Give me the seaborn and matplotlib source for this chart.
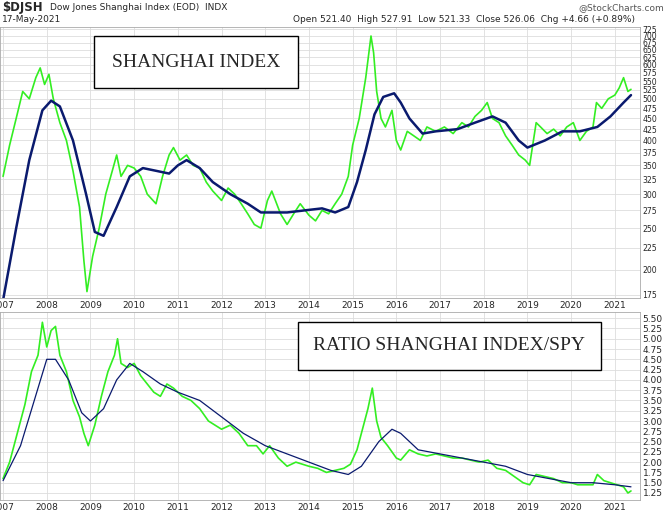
import numpy as np
import pandas as pd
import matplotlib
matplotlib.use("Agg")
import matplotlib.pyplot as plt
import seaborn as sns

# Shanghai index (approx. readings)
px_t = [2007.0,2007.15,2007.3,2007.45,2007.6,2007.75,2007.85,2007.95,2008.05,2008.15,2008.3,2008.45,2008.6,2008.75,2008.85,2008.92,
        2009.05,2009.2,2009.35,2009.5,2009.6,2009.7,2009.85,2010.0,2010.15,2010.3,2010.5,2010.65,2010.8,2010.9,2011.05,2011.2,2011.35,
        2011.5,2011.65,2011.8,2012.0,2012.15,2012.3,2012.45,2012.6,2012.75,2012.9,2013.05,2013.15,2013.35,2013.5,2013.65,2013.8,
        2014.0,2014.15,2014.3,2014.45,2014.6,2014.75,2014.9,2015.0,2015.15,2015.3,2015.42,2015.48,2015.55,2015.65,2015.75,2015.9,
        2016.0,2016.1,2016.25,2016.4,2016.55,2016.7,2016.9,2017.1,2017.3,2017.5,2017.65,2017.8,2017.95,2018.08,2018.2,2018.35,
        2018.5,2018.65,2018.8,2018.95,2019.05,2019.2,2019.3,2019.45,2019.6,2019.75,2019.9,2020.05,2020.2,2020.35,2020.5,2020.58,
        2020.7,2020.85,2021.0,2021.1,2021.2,2021.3,2021.37]
px_v = [330,390,450,520,500,560,590,540,570,500,440,400,340,280,210,178,
        215,250,300,340,370,330,350,345,330,300,285,330,370,385,360,370,350,
        345,320,305,290,310,300,285,270,255,250,290,305,270,255,270,285,
        268,260,275,270,285,300,330,390,450,560,700,640,520,450,430,470,
        400,380,420,410,400,430,420,430,415,440,430,455,470,490,450,440,
        410,390,370,360,350,440,430,415,425,410,430,440,400,420,430,490,
        475,500,510,530,560,520,526]
ma_t = [2007.0,2007.3,2007.6,2007.9,2008.1,2008.3,2008.6,2008.9,2009.1,2009.3,2009.6,2009.9,2010.2,2010.5,2010.8,2011.0,2011.2,
        2011.5,2011.8,2012.2,2012.6,2012.9,2013.5,2013.9,2014.3,2014.6,2014.9,2015.1,2015.3,2015.5,2015.7,2015.95,2016.1,2016.3,
        2016.6,2016.9,2017.4,2017.8,2018.2,2018.5,2018.8,2019.0,2019.4,2019.8,2020.2,2020.6,2020.9,2021.2,2021.37]
ma_v = [170,250,360,470,495,480,400,300,245,240,280,330,345,340,335,350,360,
        345,320,300,285,272,272,275,278,272,280,320,380,460,505,515,490,450,
        415,420,425,440,455,440,400,385,400,420,420,430,455,490,510]

# Ratio Shanghai / SPY
r_t = [2007.0,2007.15,2007.3,2007.5,2007.65,2007.8,2007.9,2008.0,2008.1,2008.2,2008.3,2008.45,2008.6,2008.75,2008.85,2008.95,
       2009.1,2009.25,2009.4,2009.55,2009.62,2009.7,2009.85,2010.0,2010.15,2010.3,2010.45,2010.6,2010.75,2010.9,2011.1,2011.3,
       2011.5,2011.7,2011.85,2012.0,2012.2,2012.4,2012.6,2012.8,2012.95,2013.1,2013.3,2013.5,2013.7,2013.85,2014.0,2014.2,2014.4,
       2014.6,2014.8,2014.95,2015.1,2015.25,2015.35,2015.45,2015.55,2015.65,2015.8,2016.0,2016.1,2016.3,2016.5,2016.7,2016.9,
       2017.1,2017.3,2017.5,2017.7,2017.9,2018.1,2018.3,2018.5,2018.7,2018.9,2019.05,2019.2,2019.4,2019.6,2019.8,2020.0,2020.15,
       2020.3,2020.5,2020.6,2020.75,2020.9,2021.05,2021.2,2021.3,2021.37]
r_v = [1.6,2.0,2.6,3.4,4.2,4.6,5.4,4.8,5.2,5.3,4.6,4.2,3.5,3.1,2.7,2.4,
       2.9,3.6,4.2,4.6,5.0,4.4,4.3,4.4,4.1,3.9,3.7,3.6,3.9,3.8,3.6,3.5,
       3.3,3.0,2.9,2.8,2.9,2.7,2.4,2.4,2.2,2.4,2.1,1.9,2.0,1.95,1.9,1.85,1.75,
       1.8,1.85,1.95,2.3,2.9,3.3,3.8,3.0,2.6,2.4,2.1,2.05,2.3,2.2,2.15,2.2,
       2.15,2.1,2.1,2.05,2.0,2.05,1.85,1.8,1.65,1.5,1.45,1.7,1.65,1.6,1.5,1.5,1.45,
       1.45,1.45,1.7,1.55,1.5,1.45,1.4,1.25,1.3]
rm_t = [2007.0,2007.4,2007.8,2008.0,2008.2,2008.5,2008.8,2009.0,2009.3,2009.6,2009.9,2010.2,2010.6,2011.0,2011.5,2012.0,2012.5,
        2013.0,2013.5,2014.0,2014.5,2014.9,2015.2,2015.6,2015.9,2016.1,2016.5,2017.0,2017.5,2018.0,2018.5,2019.0,2019.5,2020.0,
        2020.5,2021.0,2021.37]
rm_v = [1.55,2.4,3.8,4.5,4.5,4.0,3.2,3.0,3.3,4.0,4.4,4.2,3.9,3.7,3.5,3.1,2.7,
        2.4,2.2,2.0,1.8,1.7,1.9,2.5,2.8,2.7,2.3,2.2,2.1,2.0,1.9,1.7,1.6,1.5,
        1.5,1.45,1.4]

years = list(range(2007, 2022))
top_ticks = [175,200,225,250,275,300,325,350,375,400,425,450,475,500,525,550,575,600,625,650,675,700,725]
bot_ticks = [1.25,1.5,1.75,2.0,2.25,2.5,2.75,3.0,3.25,3.5,3.75,4.0,4.25,4.5,4.75,5.0,5.25,5.5]

sns.set_style("white")
fig = plt.figure(figsize=(6.65, 5.17), dpi=100)
ax1 = fig.add_axes([0.0, 0.4236, 0.962, 0.5244])
ax2 = fig.add_axes([0.0, 0.0329, 0.962, 0.3636])

green = "#33ee22"
navy = "#0a1a6e"
sns.lineplot(x=px_t, y=px_v, ax=ax1, color=green, lw=1.2)
sns.lineplot(x=ma_t, y=ma_v, ax=ax1, color=navy, lw=1.8)
sns.lineplot(x=r_t, y=r_v, ax=ax2, color=green, lw=1.2)
sns.lineplot(x=rm_t, y=rm_v, ax=ax2, color=navy, lw=0.9)

for ax in (ax1, ax2):
    ax.set_xlim(2006.93, 2021.57)
    ax.set_xticks(years)
    ax.set_xticklabels([str(y) for y in years], fontsize=6.5)
    ax.yaxis.tick_right()
    ax.tick_params(axis="y", labelsize=6.5, length=0, pad=2)
    ax.tick_params(axis="x", length=0, pad=2)
    ax.grid(True, color="#dddddd", lw=0.6)
    for s in ax.spines.values():
        s.set_color("#aaaaaa"); s.set_linewidth(0.6)
    ax.set_xlabel(""); ax.set_ylabel("")

ax1.set_yscale("log")
ax1.set_ylim(172, 735)
ax1.set_yticks(top_ticks)
ax1.set_yticklabels([str(t) for t in top_ticks])
ax1.tick_params(axis="y", labelsize=5.6)
ax1.yaxis.set_minor_locator(matplotlib.ticker.NullLocator())
ax2.set_ylim(1.08, 5.65)
ax2.set_yticks(bot_ticks)
ax2.set_yticklabels([f"{t:.2f}" for t in bot_ticks])

ax1.text(0.175, 0.87, "SHANGHAI INDEX", transform=ax1.transAxes, family="Liberation Serif",
         fontsize=14, va="center", ha="left",
         bbox=dict(boxstyle="square,pad=0.9", fc="white", ec="black", lw=1))
ax2.text(0.49, 0.82, "RATIO SHANGHAI INDEX/SPY", transform=ax2.transAxes, family="Liberation Serif",
         fontsize=14, va="center", ha="left",
         bbox=dict(boxstyle="square,pad=0.8", fc="white", ec="black", lw=1))

fig.text(0.003, 0.985, "$DJSH", fontsize=8.5, weight="bold", va="center")
fig.text(0.075, 0.985, "Dow Jones Shanghai Index (EOD)  INDX", fontsize=6.5, va="center")
fig.text(0.003, 0.962, "17-May-2021", fontsize=6.5, va="center")
fig.text(0.998, 0.985, "@StockCharts.com", fontsize=6.5, va="center", ha="right", color="#555555")
fig.text(0.955, 0.962, "Open 521.40  High 527.91  Low 521.33  Close 526.06  Chg +4.66 (+0.89%)",
         fontsize=6.5, va="center", ha="right")

fig.savefig("out.png", dpi=100)
